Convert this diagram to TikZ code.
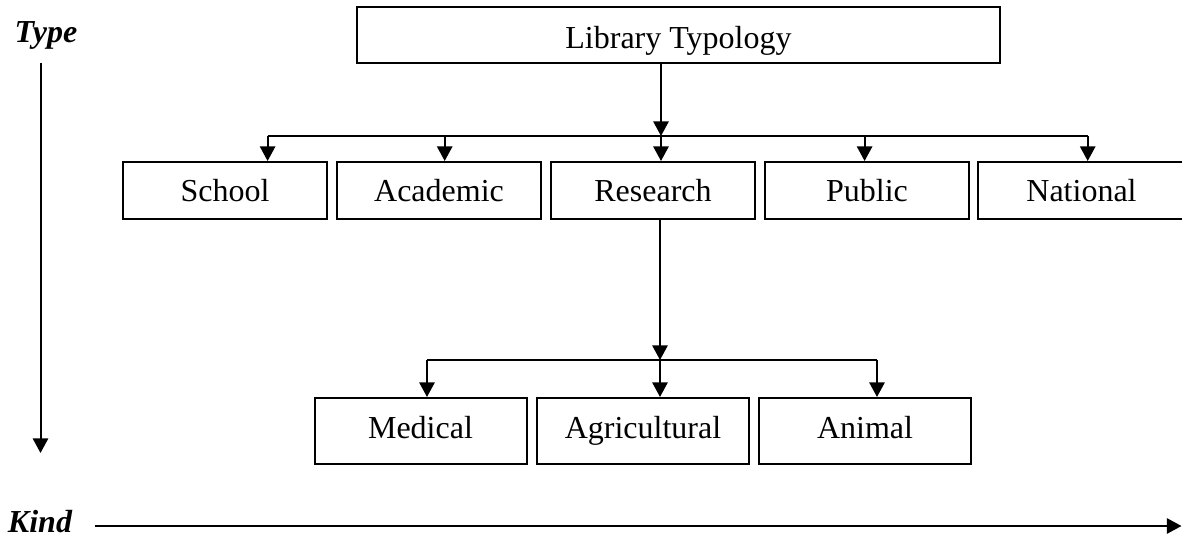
\documentclass[tikz,border=0pt]{standalone}
\usepackage{fontspec}
\setmainfont{Liberation Serif}
\usetikzlibrary{arrows.meta}
\newcommand{\pxu}{0.75pt}
\begin{document}
\begin{tikzpicture}[x=0.75pt,y=-0.75pt,
  every path/.style={line width=1.5pt},
  lbl/.style={font=\fontsize{24}{28}\selectfont},
  box/.style={draw,line width=1.5pt,inner sep=0pt,lbl},
  toprow/.style={box,minimum width=643*\pxu,minimum height=55.5*\pxu,
    text height=25.3pt,text depth=4.7pt},
  midrow/.style={box,minimum width=204*\pxu,minimum height=57*\pxu,
    text height=23.25pt,text depth=6.75pt},
  lowrow/.style={box,minimum width=212*\pxu,minimum height=66*\pxu,
    text height=20.5pt,text depth=9.5pt},
  axislbl/.style={font=\fontsize{24}{28}\selectfont\bfseries\itshape,inner sep=0pt,anchor=base},
  arr/.style={-{Triangle[width=11.5pt,length=11pt]}}
]
\useasboundingbox (0,0) rectangle (1182,538);

% boxes
\node[toprow] (lib) at (678.5,35.25) {Library Typology};

\node[midrow] (school)   at (225,190.5)  {School};
\node[midrow] (academic) at (439,190.5)  {Academic};
\node[midrow] (research) at (653,190.5)  {Research};
\node[midrow] (public)   at (867,190.5)  {Public};
\node[midrow,minimum width=207*\pxu] (national) at (1081.5,190.5) {National};

\node[lowrow] (medical)  at (420.5,431) {Medical};
\node[lowrow] (agri)     at (643,431)   {Agricultural};
\node[lowrow] (animal)   at (865,431)   {Animal};

% first level bus
\coordinate (b1) at (661,136);
\coordinate (s1) at (267.6,136);
\coordinate (s2) at (444.7,136);
\coordinate (s3) at (661,136);
\coordinate (s4) at (864.6,136);
\coordinate (s5) at (1087.7,136);
\draw[arr] (lib.south -| b1) -- (b1);
\draw (s1) -- (s5);
\draw[arr] (s1) -- (s1 |- school.north);
\draw[arr] (s2) -- (s2 |- academic.north);
\draw[arr] (s3) -- (s3 |- research.north);
\draw[arr] (s4) -- (s4 |- public.north);
\draw[arr] (s5) -- (s5 |- national.north);

% second level bus
\coordinate (b2) at (660,360);
\coordinate (m1) at (427,360);
\coordinate (m2) at (660,360);
\coordinate (m3) at (877,360);
\draw[arr] (research.south -| b2) -- (b2);
\draw (m1) -- (m3);
\draw[arr] (m1) -- (m1 |- medical.north);
\draw[arr] (m2) -- (m2 |- agri.north);
\draw[arr] (m3) -- (m3 |- animal.north);

% axes
\node[axislbl] (type) at (46,43) {Type};
\node[axislbl] (kind) at (40,532) {Kind};
\coordinate (t0) at (40.5,63);
\coordinate (t1) at (40.5,453);
\draw[arr] (t0) -- (t1);
\coordinate (k0) at (95,526);
\coordinate (k1) at (1181.5,526);
\draw[arr] (k0) -- (k1);
\end{tikzpicture}
\end{document}
